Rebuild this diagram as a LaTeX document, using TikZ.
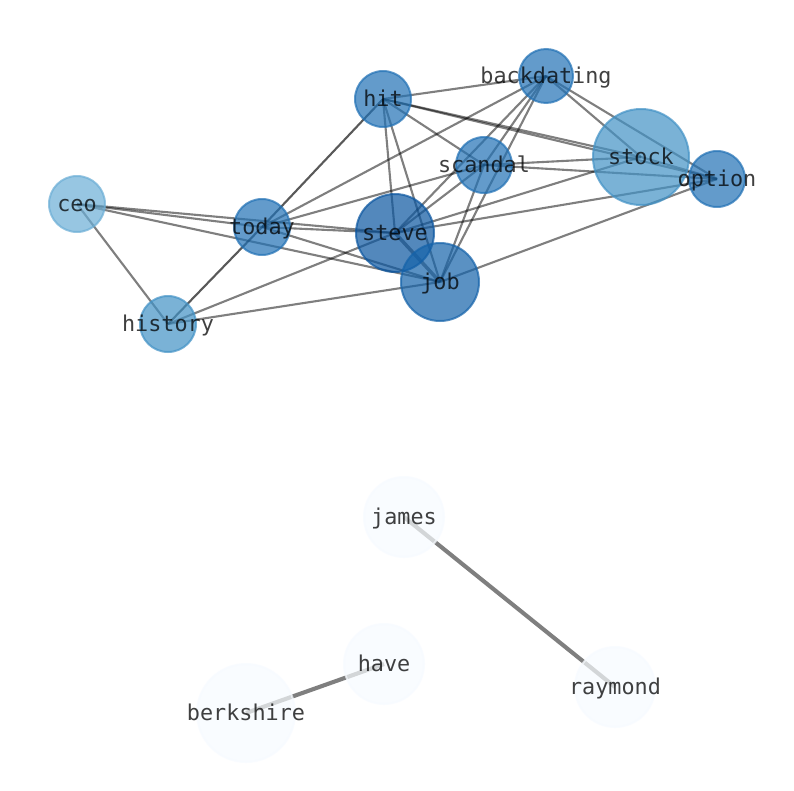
\documentclass[tikz,border=0pt]{standalone}
\usepackage{fontspec}
\setmonofont{DejaVu Sans Mono}
\usetikzlibrary{backgrounds}
\definecolor{paleblue}{HTML}{F7FBFF}
\definecolor{lightblue}{HTML}{6BAED6}
\definecolor{midblue}{HTML}{4292C6}
\definecolor{deepblue}{HTML}{2171B5}
\definecolor{darkblue}{HTML}{0B56A0}
\definecolor{jobblue}{HTML}{1563AA}
\tikzset{
  word/.style={circle, inner sep=0pt, minimum size=#1*0.06cm, fill opacity=.7, draw opacity=.7, line width=1.7pt},
  wc/.style={fill=#1, draw=#1},
  lbl/.style={font=\ttfamily\fontsize{18.6}{18.6}\selectfont, text=black, text opacity=.75, inner sep=0pt, text height=12pt, text depth=0pt},
  edge/.style={black, draw opacity=.5, line width=1.8pt},
  heavy/.style={black, draw opacity=.5, line width=3.5pt}
}
\begin{document}
\begin{tikzpicture}[x=0.03cm,y=-0.03cm]
\useasboundingbox (0,0) rectangle (794,790);
% top cluster
\node[word=28,wc=lightblue] (ceo) at (77,204) {};
\node[word=28,wc=midblue] (history) at (168,324) {};
\node[word=28,wc=deepblue] (today) at (262,227) {};
\node[word=28,wc=deepblue] (hit) at (383,99) {};
\node[word=27,wc=deepblue] (backdating) at (546,76) {};
\node[word=28,wc=deepblue] (scandal) at (484,165) {};
\node[word=48,wc=midblue] (stock) at (641,157) {};
\node[word=28,wc=deepblue] (option) at (717,179) {};
\node[word=39,wc=darkblue] (steve) at (395,233) {};
\node[word=39,wc=jobblue] (job) at (440,282) {};
% bottom pairs
\node[word=40,wc=paleblue] (james) at (404,517) {};
\node[word=40,wc=paleblue] (raymond) at (615,687) {};
\node[word=40,wc=paleblue] (have) at (384,664) {};
\node[word=49,wc=paleblue] (berkshire) at (246,713) {};

\begin{pgfonlayer}{background}
\fill[white] (0,0) rectangle (794,790);
\draw[edge] (ceo.center) -- (today.center);
\draw[edge] (ceo.center) -- (steve.center);
\draw[edge] (ceo.center) -- (job.center);
\draw[edge] (ceo.center) -- (history.center);
\draw[edge,draw opacity=.65] (history.center) -- (today.center);
\draw[edge] (history.center) -- (steve.center);
\draw[edge] (history.center) -- (job.center);
\draw[edge,draw opacity=.65] (today.center) -- (hit.center);
\draw[edge] (today.center) -- (backdating.center);
\draw[edge] (today.center) -- (scandal.center);
\draw[edge] (today.center) -- (steve.center);
\draw[edge] (today.center) -- (job.center);
\draw[edge] (hit.center) -- (backdating.center);
\draw[edge] (hit.center) -- (scandal.center);
\draw[edge] (hit.center) -- (stock.center);
\draw[edge] (hit.center) -- (option.center);
\draw[edge] (hit.center) -- (steve.center);
\draw[edge] (hit.center) -- (job.center);
\draw[edge] (backdating.center) -- (scandal.center);
\draw[edge] (backdating.center) -- (steve.center);
\draw[edge] (backdating.center) -- (job.center);
\draw[edge] (backdating.center) -- (stock.center);
\draw[edge] (backdating.center) -- (option.center);
\draw[edge] (scandal.center) -- (steve.center);
\draw[edge] (scandal.center) -- (job.center);
\draw[edge] (scandal.center) -- (stock.center);
\draw[edge] (scandal.center) -- (option.center);
\draw[edge] (steve.center) -- (stock.center);
\draw[edge] (steve.center) -- (option.center);
\draw[edge] (job.center) -- (option.center);
\draw[edge] (stock.center) -- (option.center);
\draw[edge,line width=3pt] (steve.center) -- (job.center);
\draw[heavy] (james.center) -- (raymond.center);
\draw[heavy] (have.center) -- (berkshire.center);
\end{pgfonlayer}

\node[lbl] at (ceo) {ceo};
\node[lbl] at (history) {history};
\node[lbl] at (today) {today};
\node[lbl] at (hit) {hit};
\node[lbl] at (backdating) {backdating};
\node[lbl] at (scandal) {scandal};
\node[lbl] at (stock) {stock};
\node[lbl] at (option) {option};
\node[lbl] at (steve) {steve};
\node[lbl] at (job) {job};
\node[lbl] at (james) {james};
\node[lbl] at (raymond) {raymond};
\node[lbl] at (have) {have};
\node[lbl] at (berkshire) {berkshire};
\end{tikzpicture}
\end{document}
